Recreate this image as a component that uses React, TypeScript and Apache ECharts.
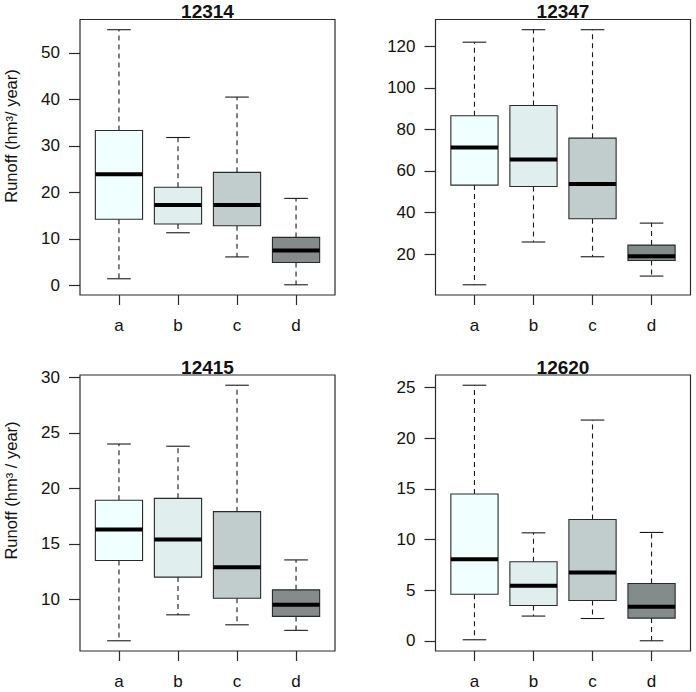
import React, { useEffect, useRef } from "react";
import * as echarts from "echarts";

// Seasons / scenarios shown on each panel's x axis
const categories = ["a", "b", "c", "d"];
const boxColors = ["#F0FFFF", "#E0EEEE", "#C1CDCD", "#838B8B"];

// Five-number summaries per station: [lower whisker, Q1, median, Q3, upper whisker]
const station12314 = [
  [1.4, 14.2, 23.9, 33.3, 55.0],
  [11.3, 13.2, 17.3, 21.1, 31.8],
  [6.1, 12.8, 17.3, 24.3, 40.5],
  [0.1, 4.9, 7.5, 10.3, 18.7],
];
const station12347 = [
  [5.2, 53.2, 71.3, 86.6, 122.0],
  [25.8, 52.5, 65.5, 91.5, 128.0],
  [18.7, 37.0, 53.7, 75.8, 128.0],
  [9.4, 16.9, 19.0, 24.3, 34.9],
];
const station12415 = [
  [6.26, 13.5, 16.3, 18.93, 24.0],
  [8.6, 12.0, 15.4, 19.1, 23.8],
  [7.7, 10.1, 12.9, 17.9, 29.3],
  [7.2, 8.46, 9.5, 10.85, 13.55],
];
const station12620 = [
  [0.1, 4.6, 8.06, 14.5, 25.24],
  [2.44, 3.49, 5.43, 7.8, 10.66],
  [2.2, 3.98, 6.74, 11.98, 21.8],
  [0.0, 2.24, 3.36, 5.66, 10.7],
];

// Y tick values per station
const ticks12314 = [0, 10, 20, 30, 40, 50];
const ticks12347 = [20, 40, 60, 80, 100, 120];
const ticks12415 = [10, 15, 20, 25, 30];
const ticks12620 = [0, 5, 10, 15, 20, 25];

const stationNames = ["12314", "12347", "12415", "12620"];
const yLabelTop = "Runoff (hm³/ year)";
const yLabelBottom = "Runoff (hm³ / year)";

const FONT = '"Liberation Sans", Arial, Helvetica, sans-serif';

const panels = [
  { name: stationNames[0], stats: station12314, ticks: ticks12314, grid: { left: 80, top: 19.5, width: 255, height: 275.5 }, ylab: yLabelTop, ylabY: 136 },
  { name: stationNames[1], stats: station12347, ticks: ticks12347, grid: { left: 435.5, top: 19.5, width: 255, height: 275.5 }, ylab: null, ylabY: 0 },
  { name: stationNames[2], stats: station12415, ticks: ticks12415, grid: { left: 80, top: 375, width: 255, height: 276 }, ylab: yLabelBottom, ylabY: 490.5 },
  { name: stationNames[3], stats: station12620, ticks: ticks12620, grid: { left: 435.5, top: 375, width: 255, height: 276 }, ylab: null, ylabY: 0 },
];

// R-style axis range: data extent padded by 4% on each side
function paddedRange(stats: number[][]) {
  const lo = Math.min(...stats.map((s) => s[0]));
  const hi = Math.max(...stats.map((s) => s[4]));
  const pad = (hi - lo) * 0.04;
  return [lo - pad, hi + pad];
}

const xPad = categories.length * 0.04;
const xMin = 0.5 - xPad;
const xMax = categories.length + 0.5 + xPad;

function renderBox(params: any, api: any) {
  const x = api.value(0);
  const lo = api.value(1);
  const q1 = api.value(2);
  const med = api.value(3);
  const q3 = api.value(4);
  const hi = api.value(5);
  const color = boxColors[params.dataIndex % boxColors.length];
  const boxHalf = 0.4;
  const capHalf = 0.2;

  const [cx, yHi] = api.coord([x, hi]);
  const [, yLo] = api.coord([x, lo]);
  const [bl, yQ3] = api.coord([x - boxHalf, q3]);
  const [br, yQ1] = api.coord([x + boxHalf, q1]);
  const [, yMed] = api.coord([x, med]);
  const [cl] = api.coord([x - capHalf, hi]);
  const [cr] = api.coord([x + capHalf, hi]);

  const ink = "#1a1a1a";
  const whisker = { stroke: ink, lineWidth: 1.1, lineDash: [5, 4] };
  const cap = { stroke: ink, lineWidth: 1.1 };

  return {
    type: "group",
    children: [
      { type: "line", shape: { x1: cx, y1: yQ3, x2: cx, y2: yHi }, style: whisker },
      { type: "line", shape: { x1: cx, y1: yQ1, x2: cx, y2: yLo }, style: whisker },
      { type: "line", shape: { x1: cl, y1: yHi, x2: cr, y2: yHi }, style: cap },
      { type: "line", shape: { x1: cl, y1: yLo, x2: cr, y2: yLo }, style: cap },
      {
        type: "rect",
        shape: { x: bl, y: yQ3, width: br - bl, height: yQ1 - yQ3 },
        style: { fill: color, stroke: "#2a2a2a", lineWidth: 1.1 },
      },
      { type: "line", shape: { x1: bl, y1: yMed, x2: br, y2: yMed }, style: { stroke: "#000", lineWidth: 4 } },
    ],
  };
}

export default function App() {
  const ref = useRef<HTMLDivElement>(null);

  useEffect(() => {
    if (!ref.current) return;
    const chart = echarts.init(ref.current, null, { renderer: "svg" });

    const grids = panels.map((p) => ({
      ...p.grid,
      show: true,
      borderColor: "#2a2a2a",
      borderWidth: 1.2,
      backgroundColor: "transparent",
      containLabel: false,
    }));

    const xAxes = panels.map((_, i) => ({
      type: "value",
      gridIndex: i,
      min: xMin,
      max: xMax,
      axisLine: { show: false, onZero: false },
      splitLine: { show: false },
      axisTick: {
        show: true,
        inside: false,
        length: 10,
        customValues: [1, 2, 3, 4],
        lineStyle: { color: "#2a2a2a", width: 1.2 },
      },
      axisLabel: {
        show: true,
        margin: 22,
        customValues: [1, 2, 3, 4],
        formatter: (v: number) => categories[Math.round(v) - 1] ?? "",
        fontFamily: FONT,
        fontSize: 17,
        color: "#111",
      },
    }));

    const yAxes = panels.map((p, i) => {
      const [lo, hi] = paddedRange(p.stats);
      return {
        type: "value",
        gridIndex: i,
        min: lo,
        max: hi,
        axisLine: { show: false, onZero: false },
        splitLine: { show: false },
        axisTick: {
          show: true,
          inside: false,
          length: 11,
          customValues: p.ticks,
          lineStyle: { color: "#2a2a2a", width: 1.2 },
        },
        axisLabel: {
          show: true,
          margin: 20,
          customValues: p.ticks,
          formatter: (v: number) => String(v),
          fontFamily: FONT,
          fontSize: 17,
          color: "#111",
        },
      };
    });

    const series = panels.map((p, i) => ({
      type: "custom",
      xAxisIndex: i,
      yAxisIndex: i,
      data: p.stats.map((s, k) => [k + 1, ...s]),
      encode: { x: 0, y: [1, 2, 3, 4, 5] },
      renderItem: renderBox,
      silent: true,
    }));

    const graphics: any[] = [];
    panels.forEach((p) => {
      graphics.push({
        type: "text",
        x: p.grid.left + p.grid.width / 2,
        y: p.grid.top - 8,
        style: {
          text: p.name,
          font: `bold 19px ${FONT}`,
          fill: "#111",
          align: "center",
          verticalAlign: "middle",
          textAlign: "center",
          textVerticalAlign: "middle",
        },
      });
      if (p.ylab) {
        graphics.push({
          type: "text",
          x: 11,
          y: p.ylabY,
          rotation: Math.PI / 2,
          style: {
            text: p.ylab,
            font: `16.5px ${FONT}`,
            fill: "#111",
            align: "center",
            verticalAlign: "middle",
            textAlign: "center",
            textVerticalAlign: "middle",
          },
        });
      }
    });

    chart.setOption({
      animation: false,
      backgroundColor: "#fff",
      grid: grids,
      xAxis: xAxes,
      yAxis: yAxes,
      series,
      graphic: graphics,
    });

    return () => chart.dispose();
  }, []);

  return (
    <div
      ref={ref}
      style={{ position: "absolute", left: 0, top: 0, width: 696, height: 692, background: "#fff" }}
    />
  );
}
